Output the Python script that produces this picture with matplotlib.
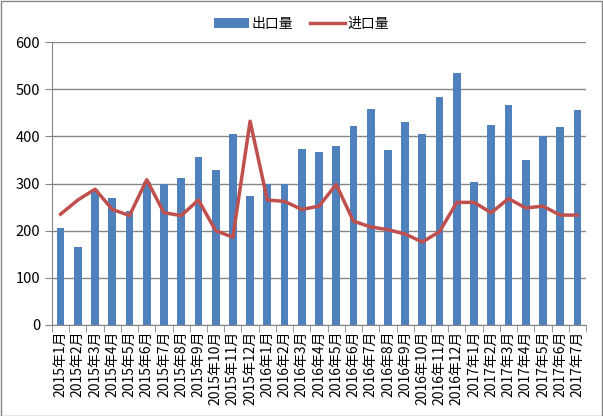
import numpy as np
import matplotlib
matplotlib.use('Agg')
import matplotlib.pyplot as plt

plt.rcParams['font.family'] = ['Noto Sans CJK SC', 'DejaVu Sans']

months = ['2015年%d月' % m for m in range(1, 13)] + \
         ['2016年%d月' % m for m in range(1, 13)] + \
         ['2017年%d月' % m for m in range(1, 8)]

exports = [206, 166, 287, 270, 242, 303, 300, 311, 356, 328, 406, 273,
           300, 298, 374, 367, 380, 421, 457, 370, 430, 406, 484, 535,
           304, 425, 467, 349, 400, 419, 455]
imports = [235, 265, 288, 245, 232, 308, 238, 232, 265, 200, 186, 432,
           265, 262, 245, 252, 298, 220, 208, 202, 193, 176, 198, 260,
           260, 238, 268, 248, 252, 233, 233]

fig = plt.figure(figsize=(6.03, 4.16), dpi=100)
ax = fig.add_axes([52 / 603, 1 - 325 / 416, (586 - 52) / 603, (325 - 42) / 416])

x = np.arange(len(months))
bars = ax.bar(x, exports, width=0.45, color='#4F81BD', label='出口量', zorder=2)
line, = ax.plot(x, imports, color='#C0504D', lw=2.5, label='进口量', zorder=3)

ax.set_xlim(-0.5, len(months) - 0.5)
ax.set_ylim(0, 600)
ax.set_yticks(range(0, 601, 100))
ax.yaxis.grid(True, color='#868686', lw=1, zorder=0)
ax.set_xticks(x)
ax.set_xticklabels(months, rotation=90, fontsize=10)
ax.set_xticks(np.arange(-0.5, len(months), 1), minor=True)
ax.tick_params(axis='x', which='major', length=0, pad=4)
ax.tick_params(axis='x', which='minor', length=5, color='#868686')
ax.tick_params(axis='y', length=5, color='#868686', labelsize=10.5)

for s in ['top', 'right']:
    ax.spines[s].set_visible(False)
for s in ['left', 'bottom']:
    ax.spines[s].set_color('#868686')

ax.legend([bars, line], ['出口量', '进口量'], loc='center',
          bbox_to_anchor=(0.5, 1 - 24 / 416), bbox_transform=fig.transFigure,
          ncol=2, frameon=False, fontsize=10, handlelength=2.5, columnspacing=1.2,
          handletextpad=0.2)

fig.patches.append(plt.Rectangle((0.001, 0.001), 0.998, 0.997, transform=fig.transFigure,
                                 fill=False, edgecolor='#868686', lw=1))

fig.savefig('out.png', dpi=100)
